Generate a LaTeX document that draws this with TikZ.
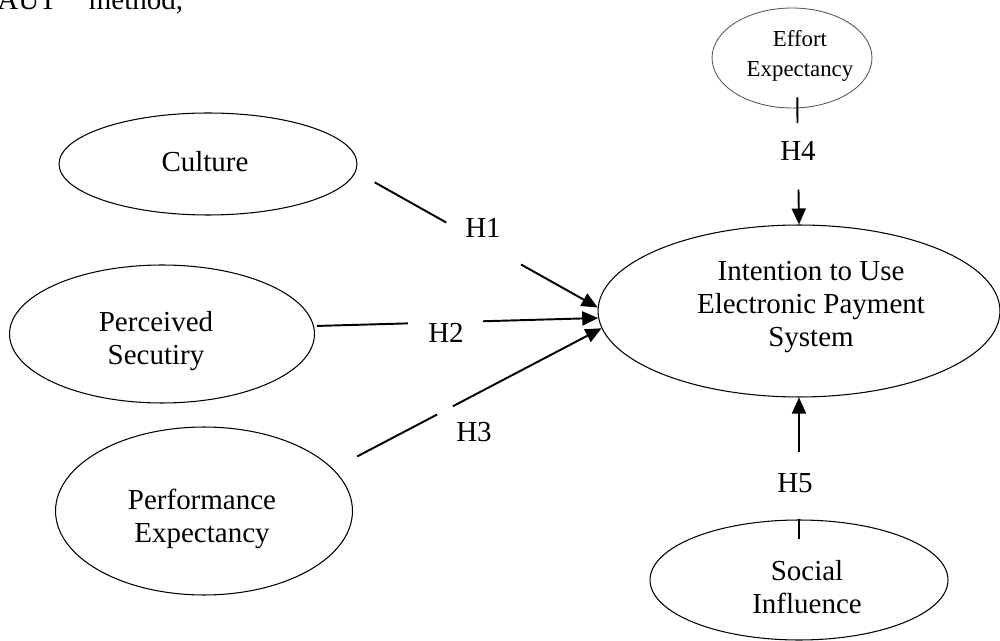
\documentclass[tikz,border=0pt]{standalone}
\usepackage{fontspec}
\setmainfont{Liberation Serif}
\usetikzlibrary{shapes.geometric,arrows.meta}
\begin{document}
\begin{tikzpicture}[x=0.02cm,y=-0.02cm,
  ell/.style={ellipse,draw=black,line width=0.6pt,inner sep=0pt},
  txt/.style={align=center,font=\fontsize{16.5}{18.7}\selectfont,inner sep=0pt},
  lbl/.style={font=\fontsize{16.5}{18.7}\selectfont,inner sep=0pt},
  conn/.style={line width=1.1pt},
  arr/.style={conn,-{Triangle[length=0.32cm,width=0.28cm]}}]
\useasboundingbox (0,0) rectangle (1000,641);
\clip (0,0) rectangle (1000,641);
% cut-off text fragment at top left
\node[lbl,anchor=base west] (frag) at (-3,10) {AUT\hspace{0.64cm}method,};
% constructs
\node[ell,minimum width=5.96cm,minimum height=2.04cm] (cul) at (208,164) {};
\node[txt] (cult) at (205,162) {Culture};
\node[ell,minimum width=6.1cm,minimum height=2.76cm] (per) at (162,334) {};
\node[txt] (pert) at (156,341) {Perceived\\Secutiry};
\node[ell,minimum width=5.94cm,minimum height=3.36cm] (perf) at (204,511) {};
\node[txt] (perft) at (202,519) {Performance\\Expectancy};
\node[ell,minimum width=8.04cm,minimum height=3.44cm] (int) at (799,311) {};
\node[txt] (intt) at (811,307) {Intention to Use\\Electronic Payment\\System};
\node[ell,draw=black!65,line width=0.5pt,minimum width=3.2cm,minimum height=2cm] (eff) at (792,58) {};
\node[txt,font=\fontsize{13}{17}\selectfont] (efft) at (800,56) {Effort\\Expectancy};
\node[ell,minimum width=5.96cm,minimum height=2.4cm] (soc) at (799,580) {};
\node[txt] (soct) at (807,587) {Social\\Influence};
% H1
\path (cul.-3) -- coordinate[pos=0.078] (h1s) coordinate[pos=0.374] (h1a) coordinate[pos=0.683] (h1b) (int.179);
\draw[conn] (h1s) -- (h1a);
\draw[arr] (h1b) -- (int.179);
\node[lbl] (h1) at (483,228) {H1};
% H2
\path (per.3) -- coordinate[pos=0.01] (h2s) coordinate[pos=0.33] (h2a) coordinate[pos=0.594] (h2b) (int.182);
\draw[conn] (h2s) -- (h2a);
\draw[arr] (h2b) -- (int.182);
\node[lbl] (h2) at (446,333) {H2};
% H3
\path (perf.18) -- coordinate[pos=0.089] (h3s) coordinate[pos=0.387] (h3a) coordinate[pos=0.446] (h3b) (int.185);
\draw[conn] (h3s) -- (h3a);
\draw[arr] (h3b) -- (int.185);
\node[lbl] (h3) at (474,432) {H3};
% H4
\path (eff.-84) -- coordinate[pos=0.128] (h4a) coordinate[pos=0.70] (h4b) (int.north);
\draw[conn] ([yshift=0.22cm]eff.-84) -- (h4a);
\draw[arr] (h4b) -- (int.north);
\node[lbl] (h4) at (798,151) {H4};
% H5
\path (soc.north) -- coordinate[pos=0.553] (h5b) (int.south);
\draw[conn] (soc.north) -- ([yshift=-0.4cm]soc.north);
\draw[arr] (h5b) -- (int.south);
\node[lbl] (h5) at (795,483) {H5};
\end{tikzpicture}
\end{document}
